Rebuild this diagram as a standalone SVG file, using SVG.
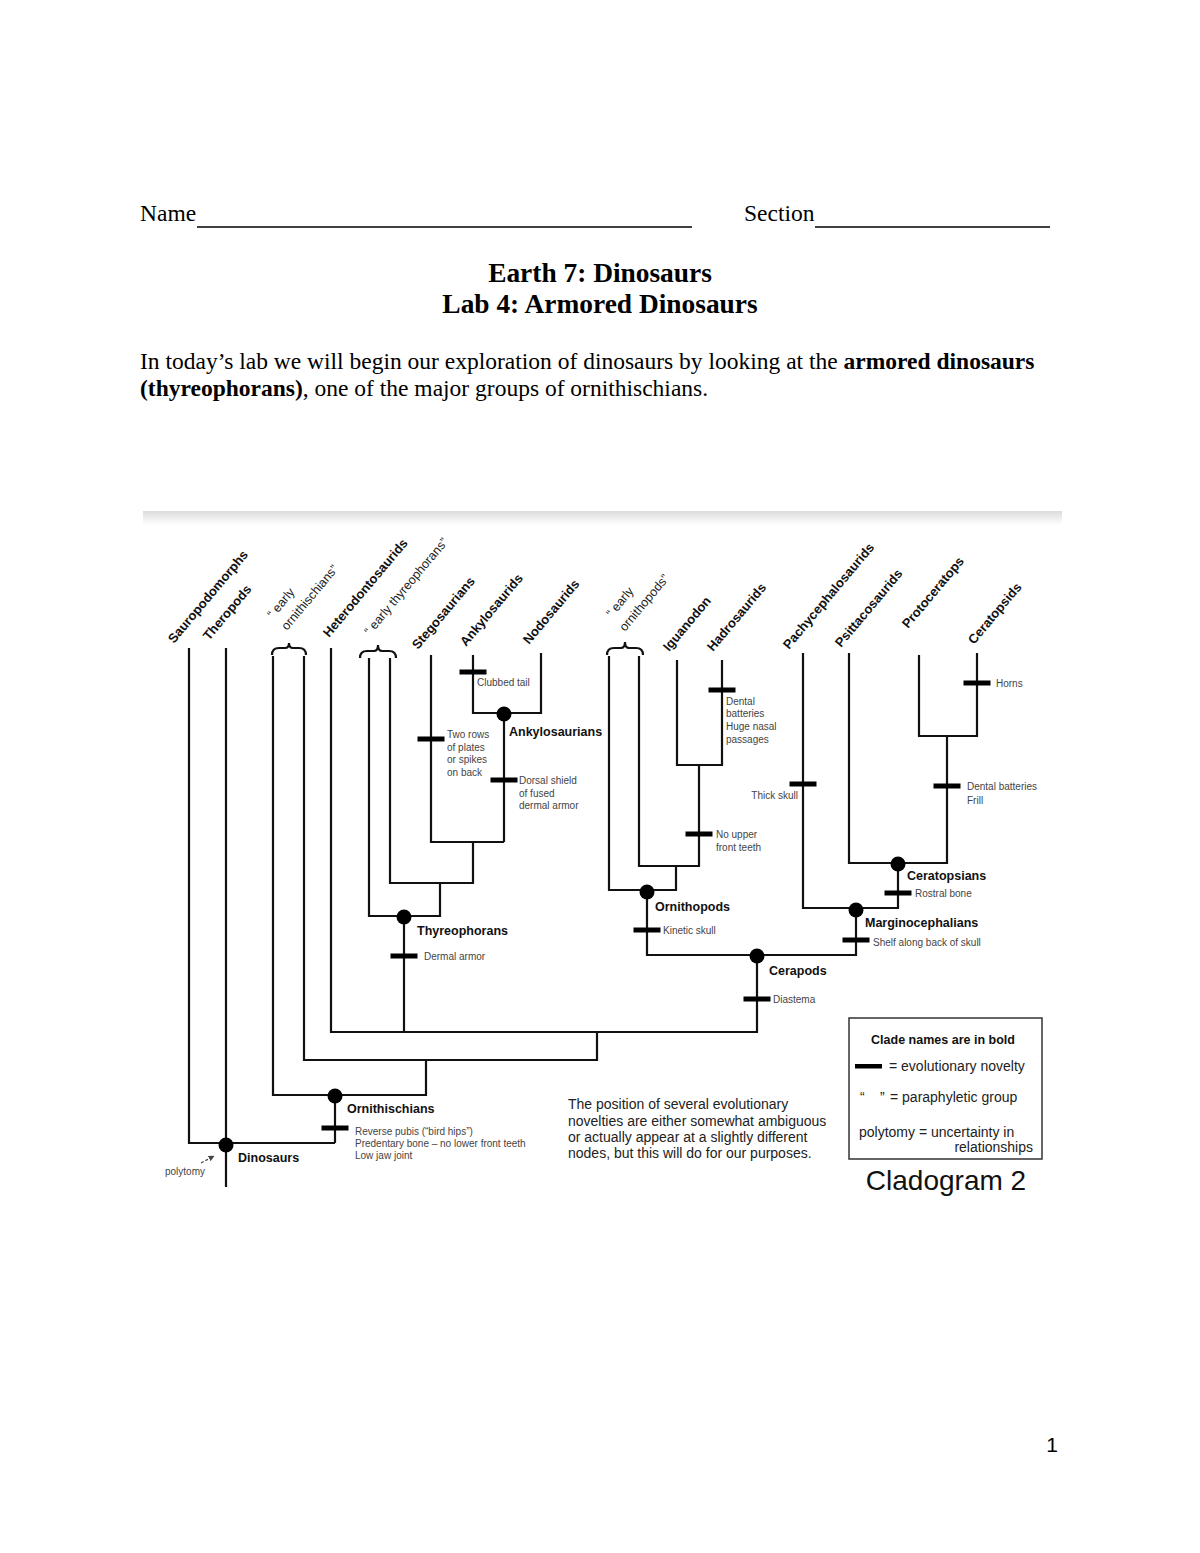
<svg xmlns="http://www.w3.org/2000/svg" width="1200" height="1553" viewBox="0 0 1200 1553">
<defs>
<linearGradient id="band" x1="0" y1="0" x2="0" y2="1">
<stop offset="0" stop-color="#dcdcdc"/>
<stop offset="1" stop-color="#ffffff"/>
</linearGradient>
<marker id="ah" viewBox="0 0 10 10" refX="9" refY="5" markerWidth="5" markerHeight="5" orient="auto">
<path d="M0,0 L10,5 L0,10 z" fill="#444"/>
</marker>
<style>
.serif{font-family:"Liberation Serif","Times New Roman",serif;fill:#000}
.sans{font-family:"Liberation Sans",Arial,sans-serif}
.taxon{font-family:"Liberation Sans",Arial,sans-serif;font-weight:bold;font-size:13px;fill:#111}
.para{font-family:"Liberation Sans",Arial,sans-serif;font-size:12.5px;fill:#222}
.clade{font-family:"Liberation Sans",Arial,sans-serif;font-weight:bold;font-size:12.5px;fill:#111}
.note{font-family:"Liberation Sans",Arial,sans-serif;font-size:10px;fill:#444}
.br{fill:none;stroke:#111;stroke-width:2.2;stroke-linejoin:miter}
.brace{fill:none;stroke:#111;stroke-width:2.2}
.bar{fill:#000}
.node{fill:#000}
.leg{font-family:"Liberation Sans",Arial,sans-serif;font-size:14px;fill:#222}
</style>
</defs>
<rect width="1200" height="1553" fill="#fff"/>

<g id="header">
<text class="serif" x="140" y="221" font-size="23.5">Name</text>
<line x1="197" y1="227" x2="692" y2="227" stroke="#000" stroke-width="1.3"/>
<text class="serif" x="744" y="221" font-size="23.5">Section</text>
<line x1="815" y1="227" x2="1050" y2="227" stroke="#000" stroke-width="1.3"/>
<text class="serif" x="600" y="282" font-size="27.4" font-weight="bold" text-anchor="middle">Earth 7: Dinosaurs</text>
<text class="serif" x="600" y="313" font-size="27.4" font-weight="bold" text-anchor="middle">Lab 4: Armored Dinosaurs</text>
<text class="serif" x="140" y="369" font-size="23.5">In today’s lab we will begin our exploration of dinosaurs by looking at the <tspan font-weight="bold">armored dinosaurs</tspan></text>
<text class="serif" x="140" y="396" font-size="23.5"><tspan font-weight="bold">(thyreophorans)</tspan>, one of the major groups of ornithischians.</text>
<text class="sans" x="1052" y="1452" font-size="21" text-anchor="middle" fill="#000">1</text>
</g>

<rect x="143" y="511" width="919" height="14" fill="url(#band)"/>

<g id="taxa">
<g id="t-sauropodomorphs"><text class="taxon" transform="translate(174,644) rotate(-50)">Sauropodomorphs</text></g>
<g id="t-theropods"><text class="taxon" transform="translate(209,641) rotate(-50)">Theropods</text></g>
<g id="t-early-ornithischians">
<text class="para" transform="translate(273,619) rotate(-50)">“ early</text>
<text class="para" transform="translate(287,631) rotate(-50)">ornithischians”</text>
<path class="brace" d="M272,655 Q272,648 279,648 L285,648 Q289,648 289,643 Q289,648 293,648 L299,648 Q306,648 306,655"/>
</g>
<g id="t-heterodontosaurids"><text class="taxon" transform="translate(329,638) rotate(-50)">Heterodontosaurids</text></g>
<g id="t-early-thyreophorans">
<text class="para" transform="translate(370,636) rotate(-50)">“ early thyreophorans”</text>
<path class="brace" d="M360,658 Q360,651 367,651 L374,651 Q378,651 378,645 Q378,651 382,651 L389,651 Q396,651 396,658"/>
</g>
<g id="t-stegosaurians"><text class="taxon" transform="translate(418,650) rotate(-50)">Stegosaurians</text></g>
<g id="t-ankylosaurids"><text class="taxon" transform="translate(466,647) rotate(-50)">Ankylosaurids</text></g>
<g id="t-nodosaurids"><text class="taxon" transform="translate(529,645) rotate(-50)">Nodosaurids</text></g>
<g id="t-early-ornithopods">
<text class="para" transform="translate(612,618) rotate(-50)">“ early</text>
<text class="para" transform="translate(625,632) rotate(-50)">ornithopods”</text>
<path class="brace" d="M607,655 Q607,648 614,648 L621,648 Q625,648 625,642 Q625,648 629,648 L636,648 Q643,648 643,655"/>
</g>
<g id="t-iguanodon"><text class="taxon" transform="translate(669,652) rotate(-50)">Iguanodon</text></g>
<g id="t-hadrosaurids"><text class="taxon" transform="translate(713,652) rotate(-50)">Hadrosaurids</text></g>
<g id="t-pachycephalosaurids"><text class="taxon" transform="translate(789,650) rotate(-50)">Pachycephalosaurids</text></g>
<g id="t-psittacosaurids"><text class="taxon" transform="translate(841,648) rotate(-50)">Psittacosaurids</text></g>
<g id="t-protoceratops"><text class="taxon" transform="translate(908,629) rotate(-50)">Protoceratops</text></g>
<g id="t-ceratopsids"><text class="taxon" transform="translate(974,645) rotate(-50)">Ceratopsids</text></g>
</g>

<g id="connectors">
<path class="br" d="M189,648 V1143 H335"/>
<path class="br" d="M226,648 V1187"/>
<path class="br" d="M273,656 V1095 H426 V1060"/>
<path class="br" d="M304,656 V1060 H597 V1032"/>
<path class="br" d="M331,648 V1032 H757 V955"/>
<path class="br" d="M369,658 V916 H440 V883"/>
<path class="br" d="M390,658 V883 H473 V842"/>
<path class="br" d="M431,655 V842 H504"/>
<path class="br" d="M473,655 V713 H541 V653"/>
<path class="br" d="M504,713 V842"/>
<path class="br" d="M404,916 V1032"/>
<path class="br" d="M335,1095 V1143"/>
<path class="br" d="M609,656 V890 H676 V866"/>
<path class="br" d="M639,656 V866 H699 V765"/>
<path class="br" d="M677,660 V765 H722 V660"/>
<path class="br" d="M647,890 V955 H856 V908"/>
<path class="br" d="M803,653 V908 H898 V863"/>
<path class="br" d="M849,653 V863 H947 V736"/>
<path class="br" d="M919,655 V736 H977 V653"/>
<path d="M201,1163 L214,1156" stroke="#444" stroke-width="1.2" stroke-dasharray="3,2" marker-end="url(#ah)" fill="none"/>
</g>

<g id="novelties">
<rect class="bar" x="459.5" y="669.5" width="27" height="5"/>
<rect class="bar" x="417.5" y="736.5" width="27" height="5"/>
<rect class="bar" x="490.5" y="777.5" width="27" height="5"/>
<rect class="bar" x="708.5" y="687.5" width="27" height="5"/>
<rect class="bar" x="963.5" y="680.5" width="27" height="5"/>
<rect class="bar" x="685.5" y="831.5" width="27" height="5"/>
<rect class="bar" x="789.5" y="781.5" width="27" height="5"/>
<rect class="bar" x="933.5" y="783.5" width="27" height="5"/>
<rect class="bar" x="884.5" y="890.5" width="27" height="5"/>
<rect class="bar" x="842.5" y="937.5" width="27" height="5"/>
<rect class="bar" x="633.5" y="927.5" width="27" height="5"/>
<rect class="bar" x="390.5" y="953.5" width="27" height="5"/>
<rect class="bar" x="743.5" y="996.5" width="27" height="5"/>
<rect class="bar" x="321.5" y="1125.5" width="27" height="5"/>
<text class="note" x="477" y="686">Clubbed tail</text>
<text class="note" x="447" y="738">Two rows</text>
<text class="note" x="447" y="750.5">of plates</text>
<text class="note" x="447" y="763">or spikes</text>
<text class="note" x="447" y="775.5">on back</text>
<text class="note" x="519" y="784">Dorsal shield</text>
<text class="note" x="519" y="797">of fused</text>
<text class="note" x="519" y="809">dermal armor</text>
<text class="note" x="726" y="705">Dental</text>
<text class="note" x="726" y="717">batteries</text>
<text class="note" x="726" y="730">Huge nasal</text>
<text class="note" x="726" y="743">passages</text>
<text class="note" x="996" y="687">Horns</text>
<text class="note" x="716" y="838">No upper</text>
<text class="note" x="716" y="851">front teeth</text>
<text class="note" x="798" y="799" text-anchor="end">Thick skull</text>
<text class="note" x="967" y="790">Dental batteries</text>
<text class="note" x="967" y="804">Frill</text>
<text class="note" x="915" y="897">Rostral bone</text>
<text class="note" x="873" y="946">Shelf along back of skull</text>
<text class="note" x="663" y="934">Kinetic skull</text>
<text class="note" x="424" y="960">Dermal armor</text>
<text class="note" x="773" y="1003">Diastema</text>
<text class="note" x="355" y="1135">Reverse pubis (“bird hips”)</text>
<text class="note" x="355" y="1147">Predentary bone – no lower front teeth</text>
<text class="note" x="355" y="1159">Low jaw joint</text>
<text class="note" x="165" y="1175">polytomy</text>
</g>

<g id="clades">
<g id="n-ankylosaurians"><circle class="node" cx="504" cy="714" r="7.5"/><text class="clade" x="509" y="736">Ankylosaurians</text></g>
<g id="n-thyreophorans"><circle class="node" cx="404" cy="917" r="7.5"/><text class="clade" x="417" y="935">Thyreophorans</text></g>
<g id="n-ornithopods"><circle class="node" cx="647" cy="892" r="7.5"/><text class="clade" x="655" y="911">Ornithopods</text></g>
<g id="n-ceratopsians"><circle class="node" cx="898" cy="864" r="7.5"/><text class="clade" x="907" y="880">Ceratopsians</text></g>
<g id="n-marginocephalians"><circle class="node" cx="856" cy="910" r="7.5"/><text class="clade" x="865" y="927">Marginocephalians</text></g>
<g id="n-cerapods"><circle class="node" cx="757" cy="956" r="7.5"/><text class="clade" x="769" y="975">Cerapods</text></g>
<g id="n-ornithischians"><circle class="node" cx="335" cy="1096" r="7.5"/><text class="clade" x="347" y="1113">Ornithischians</text></g>
<g id="n-dinosaurs"><circle class="node" cx="226" cy="1145" r="7.5"/><text class="clade" x="238" y="1162">Dinosaurs</text></g>
</g>

<g id="footnote">
<text class="leg" x="568" y="1109">The position of several evolutionary</text>
<text class="leg" x="568" y="1126">novelties are either somewhat ambiguous</text>
<text class="leg" x="568" y="1142">or actually appear at a slightly different</text>
<text class="leg" x="568" y="1158">nodes, but this will do for our purposes.</text>
</g>

<g id="legend">
<rect x="849" y="1018" width="193" height="141" fill="#fff" stroke="#333" stroke-width="1.5"/>
<text class="clade" x="943" y="1044" text-anchor="middle">Clade names are in bold</text>
<rect class="bar" x="855" y="1064" width="27" height="4.5"/>
<text class="leg" x="889" y="1071">= evolutionary novelty</text>
<text class="leg" x="860" y="1102">“</text>
<text class="leg" x="880" y="1102">”</text>
<text class="leg" x="890" y="1102">= paraphyletic group</text>
<text class="leg" x="859" y="1137">polytomy = uncertainty in</text>
<text class="leg" x="1033" y="1152" text-anchor="end">relationships</text>
</g>
<text class="sans" x="946" y="1190" font-size="28" text-anchor="middle" fill="#111">Cladogram 2</text>
</svg>
